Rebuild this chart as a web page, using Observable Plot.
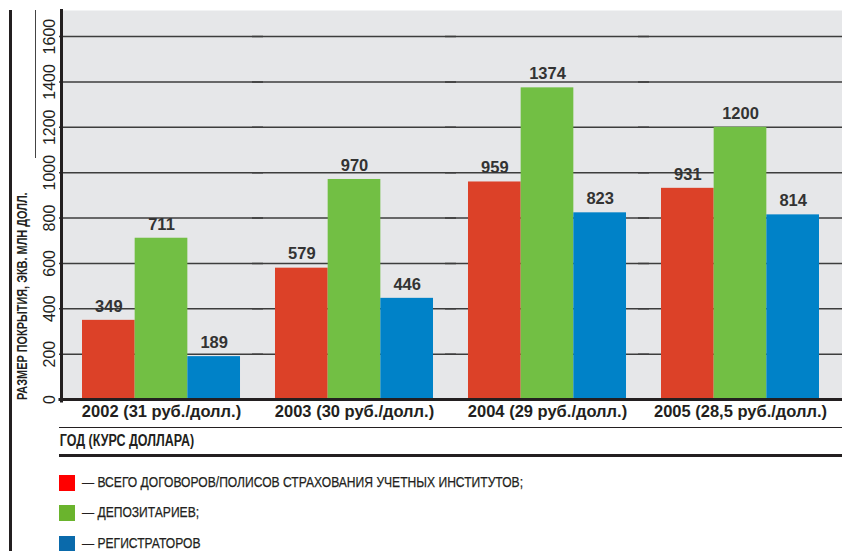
<!DOCTYPE html>
<html>
<head>
<meta charset="utf-8">
<script src="https://cdn.jsdelivr.net/npm/d3@7"></script>
<script src="https://cdn.jsdelivr.net/npm/@observablehq/plot@0.6"></script>
<style>
  html, body { margin: 0; padding: 0; background: #fff; }
  body { width: 842px; height: 551px; position: relative; overflow: hidden; font-family: "Liberation Sans", Arial, sans-serif; color: #231f20; }
  #chart { position: absolute; left: 0; top: 0; }
  .border-left { position: absolute; left: 9px; top: 10px; width: 3px; height: 541px; background: #231f20; }
  .thin-left { position: absolute; left: 35px; top: 10px; width: 1px; height: 148px; background: #444; }
  .ytitle { position: absolute; left: 15px; top: 400px; height: 14px; line-height: 14px; white-space: nowrap;
    transform-origin: 0 0; transform: rotate(-90deg) scaleX(0.78); font-weight: bold; font-size: 14px; }
  .xtitle { position: absolute; left: 59px; right: 0; top: 427px; height: 26px; border-top: 1.5px solid #231f20; border-bottom: 3px solid #231f20; }
  .xtitle span { display: inline-block; transform-origin: 0 50%; transform: scaleX(0.78); font-weight: bold; font-size: 16px; line-height: 26px; padding-left: 1px; white-space: nowrap; }
  .legend-item { position: absolute; left: 59px; height: 16px; display: flex; align-items: center; white-space: nowrap; }
  .legend-item .sw { width: 16px; height: 16px; margin-right: 7px; flex: none; }
  .legend-item .lt { display: inline-block; font-size: 14.5px; line-height: 12px; text-transform: uppercase; transform-origin: 0 50%;
    transform: translateY(-1px) scaleX(0.834); -webkit-text-stroke: 0.25px #231f20; }
</style>
</head>
<body>
<div id="chart"></div>
<div class="border-left"></div>
<div class="thin-left"></div>
<div class="ytitle" id="ytitle"></div>
<div class="xtitle"><span id="xtitle"></span></div>
<div id="legend"></div>
<script>
// ---- data ----
const years = ["2002 (31 руб./долл.)", "2003 (30 руб./долл.)", "2004 (29 руб./долл.)", "2005 (28,5 руб./долл.)"];
const seriesNames = ["всего договоров/полисов страхования учетных институтов;", "депозитариев;", "регистраторов"];
const totalValues = [349, 579, 959, 931];
const depositoryValues = [711, 970, 1374, 1200];
const registrarValues = [189, 446, 823, 814];
const yTicks = [0, 200, 400, 600, 800, 1000, 1200, 1400, 1600];
const barColors = ["#dc4128", "#72bf44", "#0082c8"];
const legendColors = ["#ff0000", "#6ab42d", "#0a6aab"];
const yTitle = "РАЗМЕР ПОКРЫТИЯ, ЭКВ. МЛН ДОЛЛ.";
const xTitle = "ГОД (КУРС ДОЛЛАРА)";

const seriesValues = [totalValues, depositoryValues, registrarValues];
const data = [];
years.forEach((yr, i) => seriesNames.forEach((s, j) => data.push({year: yr, series: s, value: seriesValues[j][i]})));

const H = 427;

const plot = Plot.plot({
  width: 842,
  height: H,
  marginTop: 10,
  marginLeft: 82,
  marginRight: 23,
  marginBottom: H - 399,
  style: {fontFamily: "'Liberation Sans', Arial, sans-serif", color: "#231f20", background: "transparent"},
  fx: {domain: years, paddingInner: 0.1813, paddingOuter: 0, round: false, label: null},
  x: {domain: seriesNames, padding: 0, round: false, axis: null},
  y: {domain: [0, 1715], axis: null},
  color: {domain: seriesNames, range: barColors},
  marks: [
    Plot.frame({fill: "#e6e7e9", stroke: null, insetLeft: -21, insetRight: -40, facet: "super"}),
    Plot.ruleY(yTicks.filter(d => d > 0), {stroke: "#3d3d3d", strokeWidth: 1.5, insetLeft: -23, insetRight: -23}),
    Plot.barY(data, {fx: "year", x: "series", y: "value", fill: "series"}),
    Plot.text(data, {fx: "year", x: "series", y: "value", text: d => String(d.value), dy: -14, fontSize: 16.5, fontWeight: "bold", fill: "#333"}),
    Plot.frame({anchor: "bottom", stroke: "#231f20", strokeWidth: 3, insetLeft: -22.5, insetRight: -40, facet: "super"}),
    Plot.frame({anchor: "left", stroke: "#231f20", strokeWidth: 3, insetLeft: -21, insetBottom: -1.5, facet: "super"}),
    Plot.axisY(yTicks, {anchor: "left", tickSize: 0, tickPadding: 28, tickRotate: -90, tickFormat: d => String(d), textAnchor: "middle", lineAnchor: "bottom", fontSize: 16, fill: "#231f20", label: null}),
    Plot.axisFx({anchor: "bottom", tickSize: 0, tickPadding: 6, fontSize: 16.5, fontWeight: "bold", fill: "#231f20", label: null})
  ]
});
document.getElementById("chart").appendChild(plot);

document.getElementById("ytitle").textContent = yTitle;
document.getElementById("xtitle").textContent = xTitle;
const legendTops = [475, 505, 536];
const legend = document.getElementById("legend");
seriesNames.forEach((s, i) => {
  const item = document.createElement("div");
  item.className = "legend-item";
  item.style.top = legendTops[i] + "px";
  const sw = document.createElement("span");
  sw.className = "sw";
  sw.style.background = legendColors[i];
  const t = document.createElement("span");
  t.className = "lt";
  t.textContent = "— " + s;
  item.appendChild(sw); item.appendChild(t);
  legend.appendChild(item);
});
</script>
</body>
</html>
